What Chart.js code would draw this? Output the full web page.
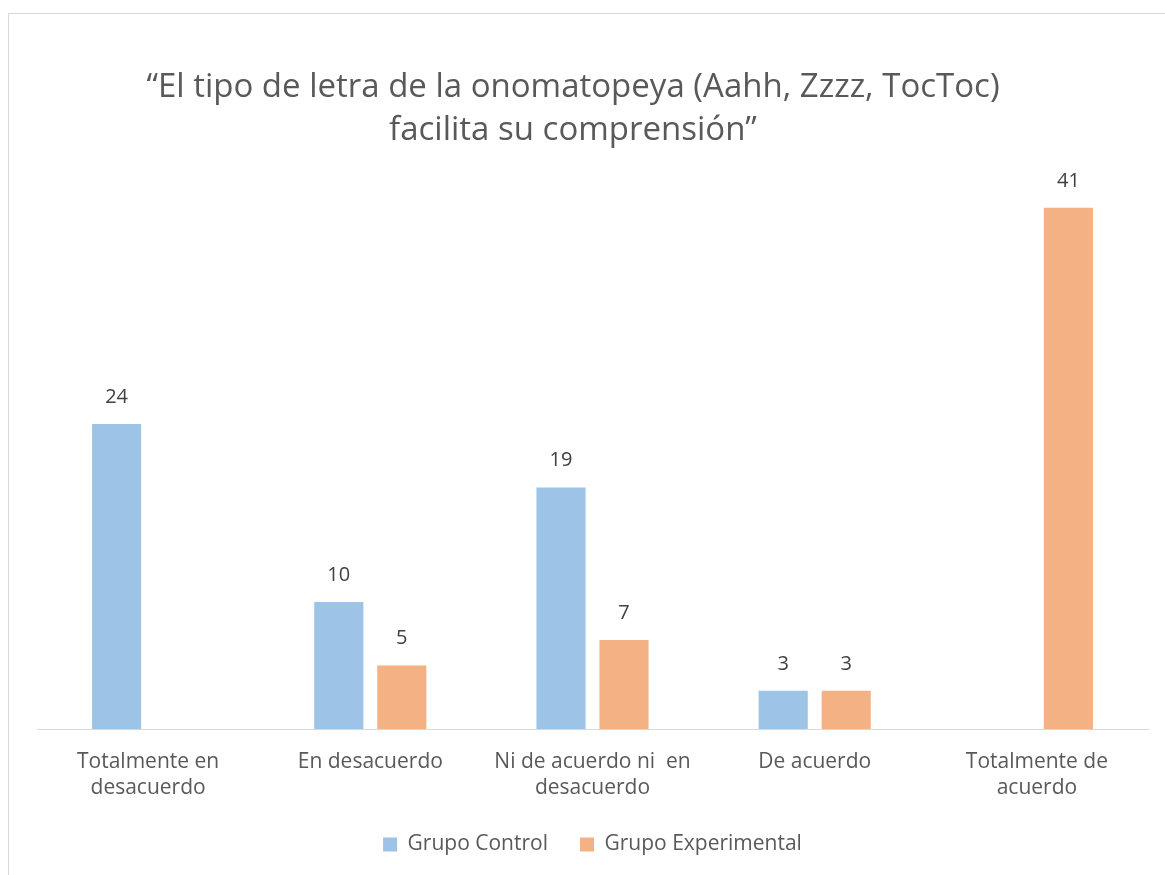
<!DOCTYPE html>
<html lang="es">
<head>
<meta charset="utf-8">
<script src="https://cdn.jsdelivr.net/npm/chart.js@4.4.1/dist/chart.umd.min.js"></script>
<style>
  html, body { margin: 0; padding: 0; background: #fff; overflow: hidden; }
  #marco {
    position: absolute; left: 8px; top: 13px;
    width: 1200px; height: 900px;
    border: 1px solid #d9d9d9; box-sizing: border-box;
  }
  #wrap { position: absolute; left: 0; top: 0; width: 1165px; height: 875px; }
</style>
</head>
<body>
<div id="marco"></div>
<div id="wrap"><canvas id="grafico"></canvas></div>
<script>
/* --- Datos ---------- */
const categorias = [
  ["Totalmente en", "desacuerdo"],
  "En desacuerdo",
  ["Ni de acuerdo ni  en", "desacuerdo"],
  "De acuerdo",
  ["Totalmente de", "acuerdo"],
];
const grupoControl = [24, 10, 19, 3, 0];
const grupoExperimental = [0, 5, 7, 3, 41];

const tituloLineas = [
  "\u201CEl tipo de letra de la onomatopeya (Aahh, Zzzz, TocToc)",
  "facilita su comprensi\u00F3n\u201D",
];

const FUENTE = "'Open Sans', 'Liberation Sans', sans-serif";

/* ─── Plugin: título (centrado en el marco, no en el área) ─── */
const tituloPlugin = {
  id: "tituloMarco",
  afterDraw(chart, _args, opts) {
    const { ctx } = chart;
    ctx.save();
    ctx.fillStyle = "#595959";
    ctx.font = opts.size + "px " + FUENTE;
    ctx.textAlign = "center";
    ctx.textBaseline = "middle";
    opts.lines.forEach((t, i) => {
      ctx.fillText(t, opts.x, opts.y + i * opts.step);
    });
    ctx.restore();
  },
};

/* ─── Plugin: etiquetas sobre las barras ─── */
const etiquetasPlugin = {
  id: "etiquetas",
  afterDatasetsDraw(chart) {
    const { ctx } = chart;
    ctx.save();
    ctx.fillStyle = "#404040";
    ctx.font = "20px " + FUENTE;
    ctx.textAlign = "center";
    ctx.textBaseline = "middle";
    chart.data.datasets.forEach((ds, i) => {
      const meta = chart.getDatasetMeta(i);
      meta.data.forEach((bar, j) => {
        const v = ds.data[j];
        if (!v) return; // sin etiqueta para ceros
        ctx.fillText(String(v), bar.x, bar.y - 27);
      });
    });
    ctx.restore();
  },
};

const ctx = document.getElementById("grafico").getContext("2d");
new Chart(ctx, {
  type: "bar",
  data: {
    labels: categorias,
    datasets: [
      {
        label: "Grupo Control",
        data: grupoControl,
        backgroundColor: "#9dc3e6",
        categoryPercentage: 0.567,
        barPercentage: 0.78,
      },
      {
        label: "Grupo Experimental",
        data: grupoExperimental,
        backgroundColor: "#f4b183",
        categoryPercentage: 0.567,
        barPercentage: 0.78,
      },
    ],
  },
  options: {
    responsive: true,
    maintainAspectRatio: false,
    animation: false,
    layout: { padding: { left: 37, right: 17, top: 157, bottom: 10 } },
    plugins: {
      title: { display: false },
      tituloMarco: { lines: tituloLineas, x: 573, y: 88, step: 43, size: 33 },
      legend: {
        position: "bottom",
        labels: {
          color: "#595959",
          font: { family: FUENTE, size: 21 },
          boxWidth: 14,
          boxHeight: 14,
          padding: 32,
        },
      },
      tooltip: { enabled: false },
    },
    scales: {
      x: {
        grid: { display: false, drawTicks: false },
        border: { display: true, color: "#d9d9d9", width: 1 },
        ticks: {
          color: "#595959",
          font: { family: FUENTE, size: 21, lineHeight: 1.25 },
          padding: 20,
          maxRotation: 0,
          autoSkip: false,
        },
        afterFit(scale) {
          scale.height = 73; // alto fijo del eje: ajusta la base de las barras
        },
      },
      y: {
        display: false,
        min: 0,
        max: 45,
      },
    },
  },
  plugins: [etiquetasPlugin, tituloPlugin],
});
</script>
</body>
</html>
